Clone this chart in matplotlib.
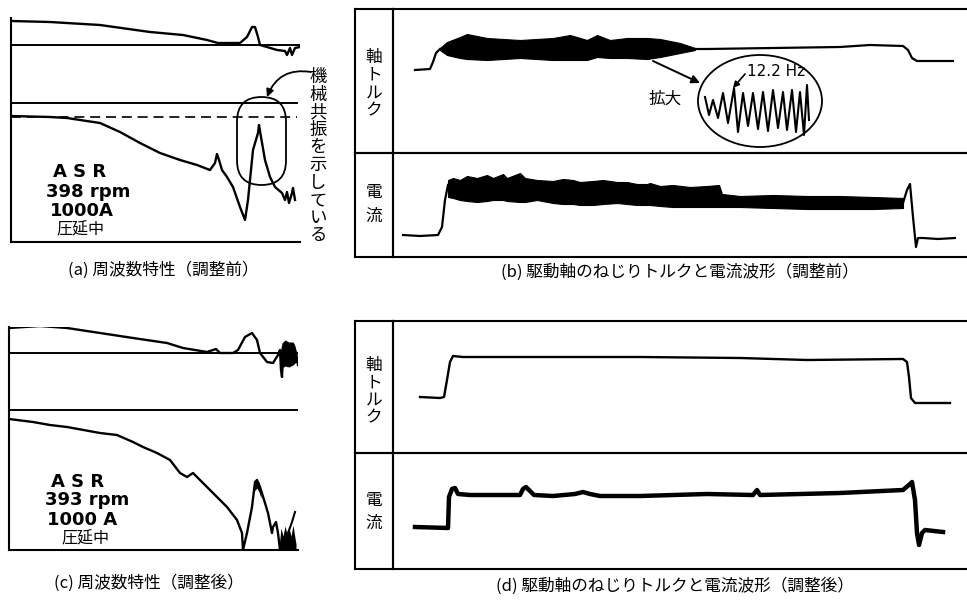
import matplotlib.pyplot as plt
from matplotlib.patches import FancyBboxPatch, Ellipse

W, H = 967, 604
JP = ['Noto Sans CJK JP', 'DejaVu Sans']

# ---------------- (a) frequency response, before tuning (chart divisions) ----------------
gain_a_x = [0, 39, 89, 139, 172, 196, 207, 229, 236, 241, 244, 247, 249, 256, 266, 274, 276, 279, 281, 284, 289]
gain_a_y = [221, 220, 217, 210, 207, 202, 199, 199, 205, 215, 215, 205, 197, 195, 192, 191, 187, 194, 187, 194, 195]
phase_a_x = [0, 39, 56, 89, 109, 129, 149, 169, 186, 199, 204, 206, 208, 211, 216, 222, 229, 234, 237,
             242, 247, 248, 250, 254, 259, 264, 271, 274, 276, 278, 281, 282, 284]
phase_a_y = [126, 125, 124, 119, 110, 99, 89, 82, 77, 72, 79, 88, 82, 72, 65, 55, 35, 22, 42,
             92, 109, 117, 105, 82, 65, 55, 49, 42, 50, 39, 49, 54, 42]
gain_zero_a, phase_top_a, phase_ref_a = 197, 139, 125
cond_a = ['A S R', '398 rpm', '1000A', '圧延中']

# ---------------- (c) frequency response, after tuning ----------------
gain_c_x = [0, 31, 58, 91, 124, 158, 174, 198, 204, 207, 211, 224, 229, 236, 243, 248, 251, 258, 264, 269,
            271, 272, 273, 274, 276, 280, 284, 288, 289]
gain_c_y = [222, 224, 222, 217, 212, 207, 202, 198, 200, 201, 197, 197, 200, 213, 217, 210, 197, 188, 187, 195,
            200, 180, 173, 195, 205, 190, 206, 192, 185]
gain_c_blob_x = [271, 273, 276, 280, 284, 286, 288]
gain_c_blob_hi = [197, 207, 210, 208, 208, 204, 196]
gain_c_blob_lo = [190, 182, 184, 183, 185, 187, 188]
phase_c_x = [0, 24, 41, 58, 91, 108, 124, 134, 148, 161, 171, 178, 184, 191, 204, 218, 228, 233, 234,
             238, 243, 246, 248, 251, 256, 259, 263, 264, 267, 269, 271]
phase_c_y = [131, 128, 125, 123, 117, 115, 108, 103, 97, 90, 77, 73, 77, 70, 57, 43, 30, 17, 0,
             17, 43, 68, 70, 63, 47, 37, 17, 23, 28, 17, 0]
phase_c_peak_x = [244, 246, 248, 250, 252]
phase_c_peak_hi = [62, 70, 70, 68, 60]
phase_c_peak_lo = [55, 60, 62, 58, 52]
phase_c_blob_x = [270, 272, 274, 276, 278, 280, 282, 284, 286, 287]
phase_c_blob_hi = [3, 22, 14, 24, 16, 22, 14, 25, 12, 6]
phase_c_tail_x = [279, 283, 286]
phase_c_tail_y = [17, 28, 38]
gain_zero_c, phase_top_c = 197, 140
cond_c = ['A S R', '393 rpm', '1000 A', '圧延中']

# ---------------- (b) shaft torque and current, before tuning (time div, level div) ----------------
tq_b_pre_t = [22, 37, 40, 43, 47]
tq_b_pre_v = [0, 1, 8, 17, 21]
tq_b_band_t = [47, 54, 67, 74, 94, 127, 160, 177, 194, 204, 217, 234, 254, 267, 287, 302]
tq_b_band_hi = [22, 28, 33, 36, 32, 30, 32, 35, 30, 35, 30, 32, 32, 31, 27, 22]
tq_b_band_lo = [20, 15, 12, 11, 10, 12, 10, 10, 10, 13, 12, 12, 11, 13, 17, 20]
tq_b_post_t = [302, 314, 380, 447, 477, 510, 515, 519, 524, 560]
tq_b_post_v = [21, 21, 22, 23, 25, 24, 20, 12, 9, 9]

cur_b_pre_t = [10, 27, 45, 49, 52, 55]
cur_b_pre_v = [0, -1, 0, 8, 35, 50]
cur_b_band_t = [55, 60, 67, 74, 84, 94, 100, 110, 114, 127, 132, 144, 160, 170, 180, 187, 200, 210,
                224, 234, 244, 254, 257, 267, 280, 297, 314, 326, 329, 347, 380, 414, 447, 480, 510]
cur_b_band_hi = [55, 57, 55, 59, 57, 60, 57, 61, 57, 62, 57, 55, 54, 56, 55, 53, 54, 55,
                 53, 53, 51, 51, 52, 49, 50, 48, 49, 50, 41, 39, 40, 39, 39, 38, 37]
cur_b_band_lo = [38, 37, 35, 34, 33, 34, 35, 35, 34, 33, 33, 35, 32, 31, 31, 30, 30, 31,
                 32, 31, 30, 30, 30, 29, 28, 28, 28, 28, 28, 28, 27, 26, 26, 26, 27]
cur_b_post_t = [510, 514, 517, 520, 523, 525, 530, 545, 562]
cur_b_post_v = [32, 45, 51, 18, -12, -3, -3, -4, -3]

# magnified 12.2 Hz oscillation
zig_t = [312, 316, 320, 325, 330, 335, 341, 345, 350, 355, 360, 365, 370, 375, 380, 385,
         390, 394, 399, 403, 407, 411, 414, 416]
zig_v = [-27, -45, -30, -48, -23, -53, -18, -62, -23, -56, -23, -59, -22, -61, -20, -58,
         -22, -60, -20, -62, -22, -65, -15, -50]

# ---------------- (d) shaft torque and current, after tuning ----------------
tq_d_t = [27, 47, 51, 54, 57, 60, 70, 94, 247, 347, 414, 510, 514, 516, 518, 522, 527, 557]
tq_d_v = [0, -1, 0, 17, 35, 41, 40, 40, 40, 39, 37, 38, 35, 20, -1, -6, -6, -6]
cur_d_t = [22, 55, 56, 59, 62, 65, 77, 107, 127, 130, 133, 136, 141, 160, 182, 190, 197, 207, 247,
           314, 360, 364, 367, 447, 510, 517, 519, 522, 524, 526, 529, 532, 550]
cur_d_v = [0, -1, 30, 38, 39, 33, 32, 32, 32, 38, 40, 37, 32, 31, 33, 35, 33, 31, 31,
           33, 32, 37, 32, 34, 37, 43, 45, 27, -6, -18, -6, -3, -5]

captions = ['(a) 周波数特性（調整前）', '(b) 駆動軸のねじりトルクと電流波形（調整前）',
            '(c) 周波数特性（調整後）', '(d) 駆動軸のねじりトルクと電流波形（調整後）']


def px_axes(fig, l, t, r, b):
    ax = fig.add_axes([l / W, 1 - b / H, (r - l) / W, (b - t) / H])
    ax.set_xticks([])
    ax.set_yticks([])
    ax.patch.set_alpha(0)
    for s in ax.spines.values():
        s.set_linewidth(1.5)
    return ax


def vtext(fig, x, y0, text, step, size):
    for i, ch in enumerate(text):
        fig.text(x / W, 1 - (y0 + i * step) / H, ch, ha='center', va='center',
                 fontsize=size, family=JP)


fig = plt.figure(figsize=(W / 100, H / 100), dpi=100)

# ---- (a) ----
ax = px_axes(fig, 11, 18, 300, 242)
ax.set_xlim(0, 289)
ax.set_ylim(0, 224)
ax.spines[['top', 'right']].set_visible(False)
ax.axhline(gain_zero_a, color='k', lw=1.4)
ax.axhline(phase_top_a, color='k', lw=1.4, xmax=0.99)
ax.axhline(phase_ref_a, color='k', lw=1.2, ls=(0, (6, 3.5)), xmax=0.99)
ax.plot(gain_a_x, gain_a_y, color='k', lw=1.7)
ax.plot(phase_a_x, phase_a_y, color='k', lw=1.7)
ax.add_patch(FancyBboxPatch((226, 57), 49, 88, boxstyle='round,pad=0,rounding_size=24.5',
                            fill=False, lw=1.3, ec='k', clip_on=False))
ax.annotate('', xy=(256, 145), xytext=(300, 170),
            arrowprops=dict(arrowstyle='-|>', lw=1.3, color='k', mutation_scale=11,
                            shrinkA=0, shrinkB=0, connectionstyle='arc3,rad=0.4'),
            annotation_clip=False)
for i, (s, yy, xx) in enumerate(zip(cond_a, [70, 50, 31, 12], [69, 77, 71, 69])):
    if i < 3:
        ax.text(xx, yy, s, ha='center', va='center', fontsize=13, fontweight='bold')
    else:
        ax.text(xx, yy, s, ha='center', va='center', fontsize=11.5, family=JP)
vtext(fig, 318, 77, '機械共振を示している', 17.6, 12.5)

# ---- (c) ----
ax = px_axes(fig, 9, 327, 298, 550)
ax.set_xlim(0, 289)
ax.set_ylim(0, 223)
ax.spines[['top', 'right']].set_visible(False)
ax.axhline(gain_zero_c, color='k', lw=1.4)
ax.axhline(phase_top_c, color='k', lw=1.4)
ax.plot(gain_c_x, gain_c_y, color='k', lw=1.7)
ax.fill_between(gain_c_blob_x, gain_c_blob_lo, gain_c_blob_hi, color='k', lw=0)
ax.plot(phase_c_x, phase_c_y, color='k', lw=1.7)
ax.fill_between(phase_c_peak_x, phase_c_peak_lo, phase_c_peak_hi, color='k', lw=0)
ax.fill_between(phase_c_blob_x, 0, phase_c_blob_hi, color='k', lw=0)
ax.plot(phase_c_tail_x, phase_c_tail_y, color='k', lw=1.5)
for i, (s, yy, xx) in enumerate(zip(cond_c, [68, 50, 30, 11], [69, 78, 73, 76])):
    if i < 3:
        ax.text(xx, yy, s, ha='center', va='center', fontsize=13, fontweight='bold')
    else:
        ax.text(xx, yy, s, ha='center', va='center', fontsize=11.5, family=JP)


def scope_panel(top, mid, bot):
    px_axes(fig, 355, top, 393, mid)
    px_axes(fig, 355, mid, 393, bot)
    a1 = px_axes(fig, 393, top, W, mid)
    a2 = px_axes(fig, 393, mid, W, bot)
    for a in (a1, a2):
        a.spines['right'].set_visible(False)
        a.set_xlim(0, 574)
    return a1, a2


# ---- (b) ----
axt, axc = scope_panel(9, 153, 257)
axt.set_ylim(-83, 61)
axc.set_ylim(-22, 82)
axt.plot(tq_b_pre_t, tq_b_pre_v, color='k', lw=1.6)
axt.fill_between(tq_b_band_t, tq_b_band_lo, tq_b_band_hi, color='k', lw=0.8, ec='k')
axt.plot(tq_b_post_t, tq_b_post_v, color='k', lw=1.6)
axc.plot(cur_b_pre_t, cur_b_pre_v, color='k', lw=1.6)
axc.fill_between(cur_b_band_t, cur_b_band_lo, cur_b_band_hi, color='k', lw=0.8, ec='k')
axc.plot(cur_b_post_t, cur_b_post_v, color='k', lw=1.6)
axt.add_patch(Ellipse((367, -31), 124, 92, fill=False, lw=1.3, ec='k'))
axt.plot(zig_t, zig_v, color='k', lw=1.5)
axt.text(383, -2, '12.2 Hz', ha='center', va='center', fontsize=11)
axt.text(272, -29, '拡大', ha='center', va='center', fontsize=12, family=JP)
axt.annotate('', xy=(307, -13), xytext=(260, 9),
             arrowprops=dict(arrowstyle='-|>', lw=1.4, color='k', mutation_scale=12, shrinkA=0, shrinkB=0))
axt.annotate('', xy=(340, -18), xytext=(352, -4),
             arrowprops=dict(arrowstyle='-|>', lw=1.2, color='k', mutation_scale=9, shrinkA=0, shrinkB=0))
vtext(fig, 374, 57, '軸トルク', 18, 12)
vtext(fig, 374, 193, '電流', 23, 12)

# ---- (d) ----
axt, axc = scope_panel(321, 453, 569)
axt.set_ylim(-56, 76)
axc.set_ylim(-42, 74)
axt.plot(tq_d_t, tq_d_v, color='k', lw=1.7)
axc.plot(cur_d_t, cur_d_v, color='k', lw=3.2, solid_joinstyle='round')
vtext(fig, 374, 365, '軸トルク', 17.7, 12)
vtext(fig, 374, 501, '電流', 22, 12)

# ---- captions ----
for s, (cx, cy) in zip(captions, [(163, 270), (680, 272), (149, 583), (675, 586)]):
    fig.text(cx / W, 1 - cy / H, s, ha='center', va='center', fontsize=12, family=JP)

fig.savefig('out.png', dpi=100)
